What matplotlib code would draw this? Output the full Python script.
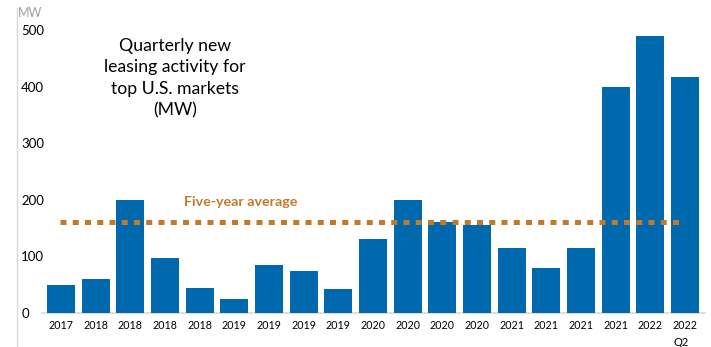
import matplotlib
matplotlib.use("Agg")
import matplotlib.pyplot as plt
from matplotlib.lines import Line2D

categories = ["2017", "2018", "2018", "2018", "2018", "2019", "2019", "2019", "2019",
              "2020", "2020", "2020", "2020", "2021", "2021", "2021", "2021", "2022", "2022"]
values = [50, 60, 200, 97, 45, 25, 85, 75, 42, 130, 200, 160, 155, 115, 80, 115, 400, 490, 417]
five_year_avg = 160
yticks = [0, 100, 200, 300, 400, 500]

plt.rcParams['font.family'] = ['Lato', 'DejaVu Sans']

W, H = 711, 347
fig = plt.figure(figsize=(W / 100, H / 100), dpi=100)
ax = fig.add_axes([17 / W, (H - 313) / H, 688 / W, (313 - 30) / H])

x = list(range(len(values)))
ax.bar(x, values, width=0.81, color="#0068ad", zorder=2)
ax.set_xlim(-1.27, 18.58)
ax.set_ylim(0, 500)

for s in ax.spines.values():
    s.set_visible(False)

ax.plot([-0.55, 18.58], [0, 0], color="#d9d9d9", lw=1.2, zorder=1, clip_on=False)
ax.plot([-0.03, 17.95], [five_year_avg, five_year_avg], color="#c07a2c", lw=3.6,
        linestyle=(0, (1.2, 1.25)), zorder=3, solid_capstyle="butt", dash_capstyle="butt")
ax.text(5.19, 196, "Five-year average", color="#c07a2c", fontsize=10.3, fontweight="bold",
        ha="center", va="center")

ax.set_yticks(yticks)
ax.set_yticklabels([str(v) for v in yticks], ha="left")
ax.tick_params(axis="y", length=0, pad=-3, labelsize=9.5)
ax.set_xticks(x)
ax.set_xticklabels(categories)
ax.tick_params(axis="x", length=0, pad=5, labelsize=7.7)

ax.text(17.9, -53, "Q2", fontsize=8, ha="center", va="center")

fig.add_artist(Line2D([17 / W, 17 / W], [0, (H - 8) / H], color="#d9d9d9", lw=1))
fig.text(18 / W, (H - 13) / H, "MW", color="#a0a0a0", fontsize=9, ha="left", va="center")

fig.text(175 / W, (H - 78) / H, "Quarterly new\nleasing activity for\ntop U.S. markets\n(MW)",
         fontsize=12.7, ha="center", va="center", linespacing=1.42)

fig.savefig("out.png", dpi=100)
